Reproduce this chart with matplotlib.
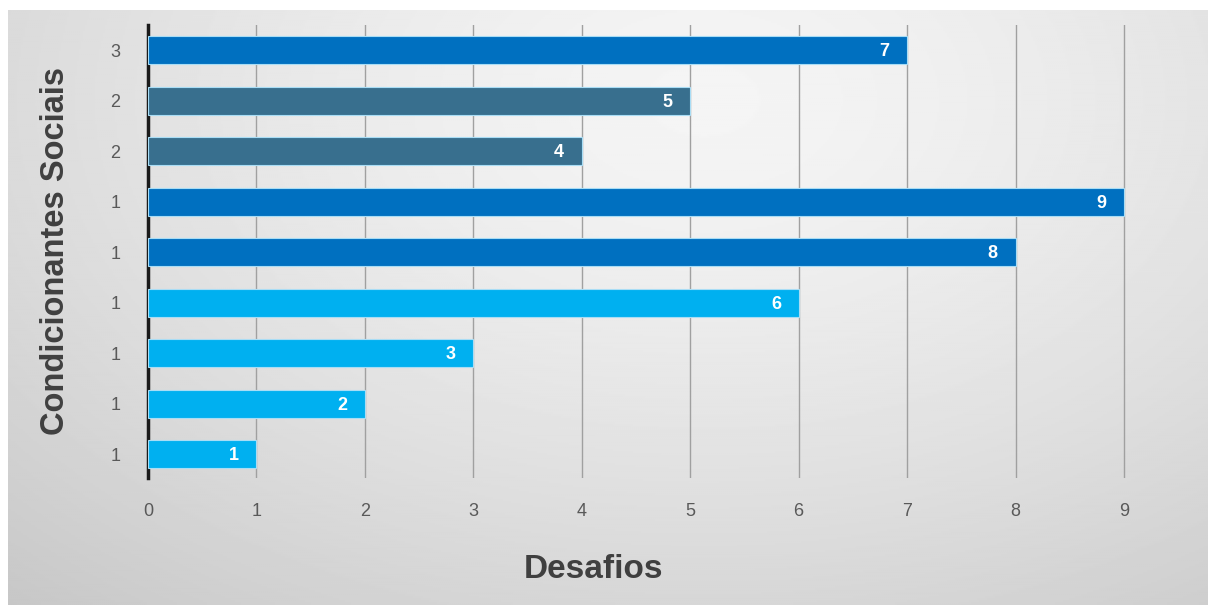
import numpy as np
import matplotlib.pyplot as plt

# data, bottom to top
categorias = ['1', '1', '1', '1', '1', '1', '2', '2', '3']
desafios = [1, 2, 3, 6, 8, 9, 4, 5, 7]
cores = ['#00B0F0', '#00B0F0', '#00B0F0', '#00B0F0',
         '#0070C0', '#0070C0', '#386F8E', '#386F8E', '#0070C0']

fonte = ['Liberation Sans', 'DejaVu Sans']

fig = plt.figure(figsize=(12.08, 6.05), dpi=100)
fig.patch.set_facecolor('white')

# gray radial background panel
bg = fig.add_axes([8 / 1208, 0, 1 - 8 / 1208, 1 - 10 / 605], zorder=-10)
yy, xx = np.mgrid[0:1:300j, 0:1:600j]
dist = np.sqrt(((xx - 0.58) / 0.8) ** 2 + ((yy - 0.15) / 1.05) ** 2)
shade = 0.96 - 0.16 * np.clip(dist, 0, 1.2) ** 1.4
bg.imshow(shade, cmap='gray', vmin=0, vmax=1, aspect='auto', extent=[0, 1, 0, 1])
bg.axis('off')

unit = (1124 - 148) / 9
xmax = 9.3
ax = fig.add_axes([148 / 1208, 1 - 478 / 605, xmax * unit / 1208, (478 - 25) / 605])
ax.patch.set_alpha(0)

y = np.arange(len(desafios))
bars = ax.barh(y, desafios, height=0.56, color=cores, edgecolor='#A9DDF5',
               linewidth=0.8, zorder=3)

for b, v in zip(bars, desafios):
    ax.text(b.get_width() - 0.21, b.get_y() + b.get_height() / 2 - 0.03, str(v),
            ha='center', va='center', color='white', fontsize=13,
            fontweight='bold', family=fonte, zorder=4)

ax.set_xlim(0, xmax)
ax.set_ylim(-0.47, 8.5)
ax.set_xticks(range(10))
ax.set_yticks(y)
ax.set_yticklabels(categorias)
ax.grid(axis='x', color='#A0A0A0', linewidth=1.0, zorder=0)
ax.set_axisbelow(True)

for s in ['top', 'right', 'bottom']:
    ax.spines[s].set_visible(False)
ax.spines['left'].set_linewidth(2.5)
ax.spines['left'].set_color('#1A1A1A')

ax.tick_params(axis='both', length=0, colors='#595959', labelsize=13)
ax.tick_params(axis='x', pad=18)
ax.tick_params(axis='y', pad=20)
for lbl in ax.get_xticklabels() + ax.get_yticklabels():
    lbl.set_family(fonte)

fig.text(594 / 1208, 1 - 570 / 605, 'Desafios', ha='center', va='center',
         fontsize=24, fontweight='bold', color='#404040', family=fonte)
fig.text(56 / 1208, 1 - 251 / 605, 'Condicionantes Sociais', ha='center',
         va='center', rotation=90, fontsize=23.5, fontweight='bold',
         color='#404040', family=fonte)

fig.savefig('out.png', dpi=100)
